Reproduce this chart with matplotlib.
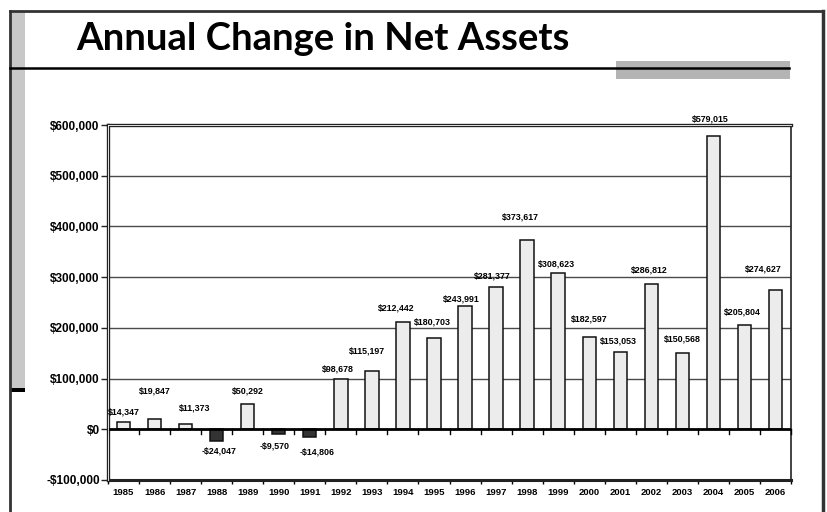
import matplotlib
matplotlib.use("Agg")
import matplotlib.pyplot as plt
import numpy as np
from matplotlib.patches import Rectangle
from matplotlib.lines import Line2D

# data
years = [str(y) for y in range(1985, 2007)]
change = [14347, 19847, 11373, -24047, 50292, -9570, -14806, 98678, 115197,
          212442, 180703, 243991, 281377, 373617, 308623, 182597, 153053,
          286812, 150568, 579015, 205804, 274627]
# where Excel left each data label (x shift in categories, y in dollars)
label_dx = [0, 0, 0.3, 0.07, 0, -0.12, 0.23, -0.1, -0.16, -0.2, -0.06, -0.13,
            -0.13, -0.23, -0.06, 0, -0.06, -0.06, 0, -0.1, -0.06, -0.39]
label_y = [33700, 75200, 41600, -43600, 75200, -33700, -45500, 118800, 154500,
           239600, 211900, 257400, 303000, 417800, 326700, 217800, 174300,
           314900, 178200, 611900, 231700, 316800]
yticks = np.arange(-100000, 600001, 100000)

W, H = 827, 512
fig = plt.figure(figsize=(W / 100, H / 100), dpi=100)
fig.patch.set_facecolor("white")

def fx(px):
    return px / W

def fy(py):
    return 1 - py / H

# page decoration
fig.add_artist(Rectangle((fx(11), fy(388)), fx(14), 377 / H, transform=fig.transFigure,
                         facecolor="#c8c8c8", edgecolor="none"))
fig.add_artist(Rectangle((fx(11), fy(392)), fx(14), 4 / H, transform=fig.transFigure,
                         facecolor="black", edgecolor="none"))
fig.add_artist(Line2D([fx(9.5), fx(9.5)], [fy(11), 0], transform=fig.transFigure, color="#333333", lw=2))
fig.add_artist(Line2D([fx(822.5), fx(822.5)], [fy(11), 0], transform=fig.transFigure, color="#333333", lw=2.5))
fig.add_artist(Line2D([fx(9.5), fx(822.5)], [fy(10.5), fy(10.5)], transform=fig.transFigure, color="#333333", lw=2))
fig.add_artist(Rectangle((fx(616), fy(79)), fx(174), 18 / H, transform=fig.transFigure,
                         facecolor="#b4b4b4", edgecolor="none"))
fig.add_artist(Line2D([fx(10), fx(789)], [fy(68), fy(68)], transform=fig.transFigure, color="black", lw=1.8))
fig.text(fx(76), fy(50), "Annual Change in Net Assets", fontsize=27.5,
         family=["Liberation Sans Narrow", "Lato", "DejaVu Sans"], fontweight="bold",
         va="baseline", ha="left")

# chart
ax = fig.add_axes([fx(108), fy(480), fx(791 - 108), (480 - 125) / H])
x = np.arange(len(years))
vals = np.array(change)
colors = ["#ececec" if v >= 0 else "#333333" for v in vals]
ax.bar(x, vals, width=0.43, color=colors, edgecolor="#111111", linewidth=1.1, zorder=3)

ax.set_xlim(-0.5, len(years) - 0.5)
ax.set_ylim(-100000, 600000)
ax.set_yticks(yticks)
ax.set_yticklabels([("-$" if t < 0 else "$") + f"{abs(t):,}" for t in yticks],
                   fontsize=8.5, fontweight="bold", family="Liberation Sans")
for t in yticks[2:-1]:
    ax.axhline(t, color="#4a4a4a", lw=1.0, zorder=1)
ax.axhline(0, color="black", lw=2, zorder=4)
# ticks on the zero line at category boundaries
for b in np.arange(-0.5, len(years)):
    ax.plot([b, b], [0, -9000], color="black", lw=1, zorder=4, clip_on=False)

ax.set_xticks(np.arange(-0.5, len(years)), minor=False)
ax.set_xticklabels([])
ax.set_xticks(x, minor=True)
ax.set_xticklabels(years, minor=True, fontsize=6.8, fontweight="bold", family="Liberation Sans")
ax.tick_params(axis="x", which="major", length=3, width=1, direction="out", color="black")
ax.tick_params(axis="x", which="minor", length=0, pad=6)
ax.tick_params(axis="y", length=5, width=1, direction="out", pad=1, color="#222222")

for s in ax.spines.values():
    s.set_color("#222222")
ax.spines["left"].set_linewidth(2.4)
ax.spines["top"].set_linewidth(2.4)
ax.spines["right"].set_linewidth(1.2)
ax.spines["bottom"].set_linewidth(2.2)
# double-line look on left and top
ax.plot([-0.5, len(years) - 0.5], [600000, 600000], color="white", lw=0.6, zorder=6, clip_on=False)
ax.plot([-0.5, -0.5], [-100000, 600000], color="white", lw=0.6, zorder=6, clip_on=False)

for i, v in enumerate(change):
    lab = ("-$" if v < 0 else "$") + f"{abs(v):,}"
    ax.text(i + label_dx[i], label_y[i], lab, ha="center", va="center",
            fontsize=6.4, fontweight="bold", family="Liberation Sans", zorder=7, clip_on=False)

fig.savefig("out.png", dpi=100)
